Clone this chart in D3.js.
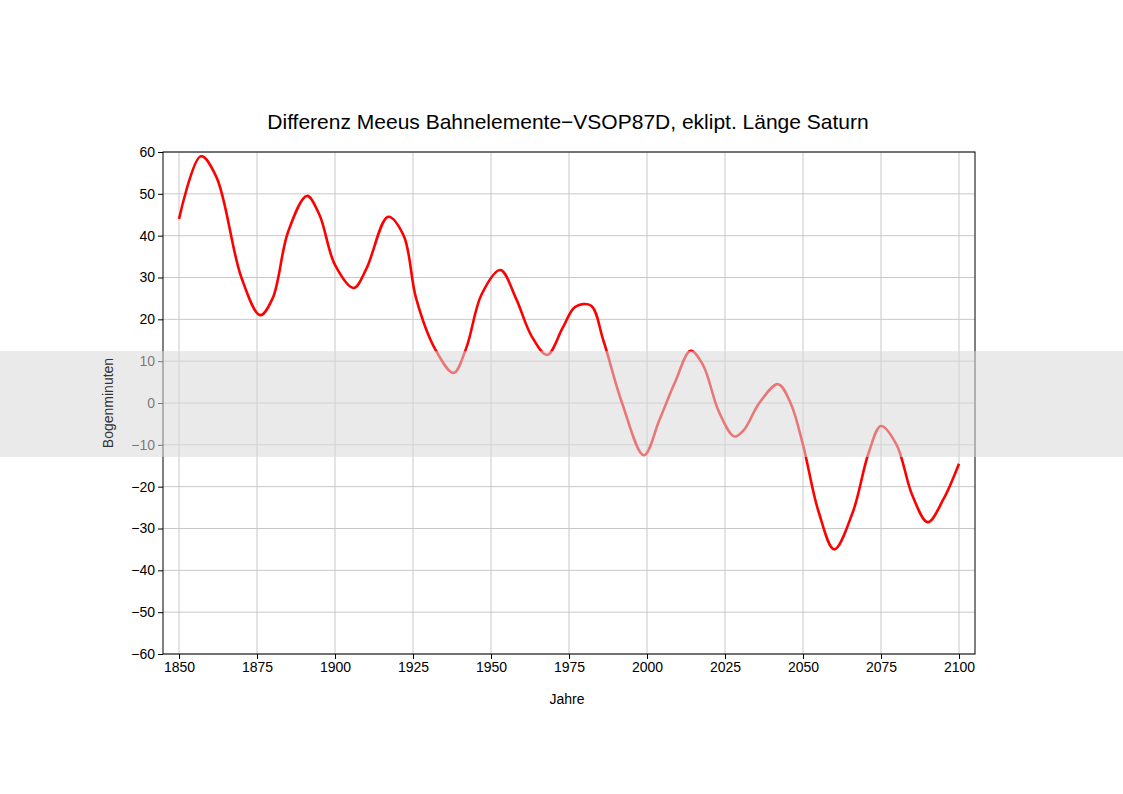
<!DOCTYPE html><html><head><meta charset="utf-8">
<script src="https://cdn.jsdelivr.net/npm/d3@7"></script>
<style>body{margin:0;background:#fff}svg{font-family:"Liberation Sans",Arial,sans-serif}</style>
</head><body><svg width="1123" height="794"></svg><script>
const years=[1850,1857,1862,1870,1876,1880,1885,1891,1895,1900,1906,1910,1917,1922,1926,1932,1938,1942,1947,1953,1958,1963,1968,1973,1977,1982,1986,1992,1999,2004,2009,2014,2018,2023,2028,2031,2036,2042,2046,2050,2055,2060,2066,2071,2075,2080,2085,2090,2095,2100];
const diff=[44,59,54,30,21,25,41,49.5,45,33,27.5,32,44.5,40,25,13,7.2,13,26,31.8,25,16,11.5,18,23,23.3,15,0,-12.5,-4,5,12.5,9,-2,-8,-6.5,0,4.5,0,-10,-26,-35,-26,-12,-5.5,-10,-22,-28.5,-23,-14.5];
const xTicks=[1850,1875,1900,1925,1950,1975,2000,2025,2050,2075,2100];
const yTicks=[-60,-50,-40,-30,-20,-10,0,10,20,30,40,50,60];
const band=[-12.9,12.4];
const svg=d3.select("svg");
const L=163,R=975,T=152,B=654;
const x=d3.scaleLinear().domain([1850-16/3.12,2100+16/3.12]).range([L,R]);
const y=d3.scaleLinear().domain([-60,60]).range([B,T]);
const g=svg.append("g");
g.selectAll(".gx").data(xTicks).join("line").attr("x1",d=>x(d)).attr("x2",d=>x(d)).attr("y1",T).attr("y2",B).attr("stroke","#c8c8c8");
g.selectAll(".gy").data(yTicks).join("line").attr("y1",d=>y(d)).attr("y2",d=>y(d)).attr("x1",L).attr("x2",R).attr("stroke","#c8c8c8");
const line=d3.line().x((d,i)=>x(years[i])).y(d=>y(d)).curve(d3.curveCatmullRom.alpha(0.5));
svg.append("path").datum(diff).attr("d",line).attr("fill","none").attr("stroke","#ff0000").attr("stroke-width",2.6);
svg.append("rect").attr("x",L).attr("y",T).attr("width",R-L).attr("height",B-T).attr("fill","none").attr("stroke","#000");
const xa=svg.append("g").attr("transform",`translate(0,${B})`).call(d3.axisBottom(x).tickValues(xTicks).tickFormat(d3.format("d")).tickSize(5));
const ya=svg.append("g").attr("transform",`translate(${L},0)`).call(d3.axisLeft(y).tickValues(yTicks).tickFormat(d=>d<0?"\u2212"+(-d):d).tickSize(5));
[xa,ya].forEach(a=>{a.select(".domain").remove();a.selectAll("text").attr("font-size",14).attr("fill","#000").attr("font-family","Liberation Sans, Arial");});
svg.append("rect").attr("x",0).attr("width",1123).attr("y",y(band[1])).attr("height",y(band[0])-y(band[1])).attr("fill","#d8d8d8").attr("opacity",0.55);
svg.append("text").attr("x",568).attr("y",129).attr("text-anchor","middle").attr("font-size",21).text("Differenz Meeus Bahnelemente\u2212VSOP87D, eklipt. Länge Saturn");
svg.append("text").attr("x",567).attr("y",704).attr("text-anchor","middle").attr("font-size",14).text("Jahre");
svg.append("text").attr("transform","translate(113,403) rotate(-90)").attr("text-anchor","middle").attr("font-size",14).attr("fill","#333").text("Bogenminuten");
</script></body></html>
